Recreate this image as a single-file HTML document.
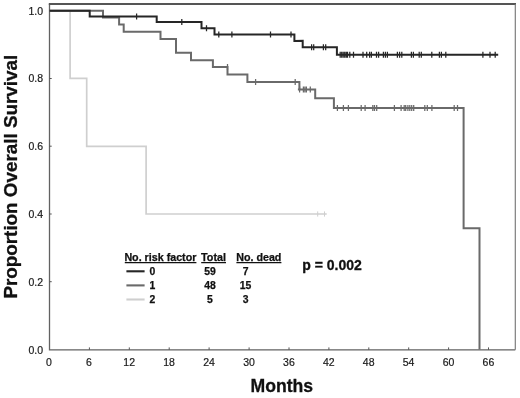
<!DOCTYPE html>
<html><head><meta charset="utf-8"><title>Overall Survival</title>
<style>html,body{margin:0;padding:0;background:#fff;}body{width:520px;height:398px;overflow:hidden;font-family:"Liberation Sans",sans-serif;}svg{display:block;filter:blur(0.4px);}</style>
</head><body>
<svg width="520" height="398" viewBox="0 0 520 398">
<rect width="520" height="398" fill="#fff"/>
<path d="M49.5,4 V349.8 H515.3" fill="none" stroke="#626262" stroke-width="1.3"/>
<path d="M48.8,4 H516" fill="none" stroke="#555" stroke-width="2"/>
<path d="M515.3,4 V349.8" fill="none" stroke="#787878" stroke-width="1.15"/>
<path d="M89.4,349.8v-2.4M129.3,349.8v-2.4M169.2,349.8v-2.4M209.1,349.8v-2.4M249.1,349.8v-2.4M289.0,349.8v-2.4M328.9,349.8v-2.4M368.8,349.8v-2.4M408.7,349.8v-2.4M448.6,349.8v-2.4M488.5,349.8v-2.4M49.5,78.5h2.2M49.5,146.2h2.2M49.5,214.0h2.2M49.5,281.7h2.2" stroke="#555" stroke-width="1" fill="none"/>
<path d="M70.1,10.7 L70.1,78.4 L86.7,78.4 L86.7,146.3 L146.1,146.3 L146.1,214.0 L326.7,214.0" fill="none" stroke="#cfcfcf" stroke-width="1.7"/>
<path d="M317.7,211.4V216.6 M324.5,211.4V216.6" fill="none" stroke="#cfcfcf" stroke-width="1"/>
<path d="M49.5,10.7 L103.0,10.7 L103.0,17.5 L119.1,17.5 L119.1,24.4 L123.7,24.4 L123.7,31.8 L160.5,31.8 L160.5,39.0 L176.0,39.0 L176.0,52.7 L191.0,52.7 L191.0,60.3 L212.9,60.3 L212.9,67.0 L227.5,67.0 L227.5,74.6 L247.4,74.6 L247.4,82.1 L299.4,82.1 L299.4,89.6 L315.2,89.6 L315.2,98.3 L333.9,98.3 L333.9,107.9 L463.6,107.9 L463.6,228.3 L479.5,228.3 L479.5,349.5 M297.9,89.6H300" fill="none" stroke="#6a6a6a" stroke-width="2"/>
<path d="M227.5,64.0V70.0 M255.6,79.1V85.1 M295.2,79.1V85.1 M299.6,86.6V92.6 M303.4,86.6V92.6 M304.9,86.6V92.6 M306.4,86.6V92.6 M310.3,86.6V92.6 M337.4,104.9V110.9 M343.4,104.9V110.9 M348.4,104.9V110.9 M361.2,104.9V110.9 M365.1,104.9V110.9 M372.8,104.9V110.9 M374.5,104.9V110.9 M376.7,104.9V110.9 M394.4,104.9V110.9 M401.1,104.9V110.9 M404.2,104.9V110.9 M405.7,104.9V110.9 M407.9,104.9V110.9 M409.8,104.9V110.9 M411.7,104.9V110.9 M413.7,104.9V110.9 M424.8,104.9V110.9 M427.3,104.9V110.9 M431.9,104.9V110.9 M454.2,104.9V110.9 M457.5,104.9V110.9" fill="none" stroke="#6a6a6a" stroke-width="1.25"/>
<path d="M49.5,10.7 L89.7,10.7 L89.7,16.5 L156.7,16.5 L156.7,22.0 L201.5,22.0 L201.5,28.3 L214.5,28.3 L214.5,34.4 L294.4,34.4 L294.4,40.9 L302.7,40.8 L302.7,47.2 L336.9,47.2 L336.9,54.7 L498.2,54.7" fill="none" stroke="#262626" stroke-width="2"/>
<path d="M136.6,13.5V19.5 M181.8,19.0V25.0 M206.5,25.3V31.3 M218.8,31.4V37.4 M231.9,31.4V37.4 M270.5,31.4V37.4 M291.0,31.4V37.4 M311.6,44.2V50.2 M313.7,44.2V50.2 M323.4,44.2V50.2 M325.7,44.2V50.2 M340.2,51.7V57.7 M341.7,51.7V57.7 M343.2,51.7V57.7 M344.7,51.7V57.7 M346.2,51.7V57.7 M347.5,51.7V57.7 M349.8,51.7V57.7 M353.5,51.7V57.7 M363.0,51.7V57.7 M366.7,51.7V57.7 M369.6,51.7V57.7 M371.4,51.7V57.7 M376.5,51.7V57.7 M378.6,51.7V57.7 M383.4,51.7V57.7 M385.4,51.7V57.7 M387.4,51.7V57.7 M397.4,51.7V57.7 M399.6,51.7V57.7 M401.8,51.7V57.7 M411.4,51.7V57.7 M413.4,51.7V57.7 M419.2,51.7V57.7 M421.3,51.7V57.7 M431.8,51.7V57.7 M439.4,51.7V57.7 M441.4,51.7V57.7 M445.8,51.7V57.7 M482.9,51.7V57.7 M490.0,51.7V57.7 M495.2,51.7V57.7" fill="none" stroke="#262626" stroke-width="1.25"/>
<g font-family="Liberation Sans, sans-serif" font-size="10.5" fill="#1a1a1a" stroke="#1a1a1a" stroke-width="0.2" text-anchor="end">
<text x="43.1" y="14.5">1.0</text>
<text x="43.1" y="82.3">0.8</text>
<text x="43.1" y="150.2">0.6</text>
<text x="43.1" y="218.0">0.4</text>
<text x="43.1" y="285.8">0.2</text>
<text x="43.1" y="353.7">0.0</text>
</g>
<g font-family="Liberation Sans, sans-serif" font-size="10.5" fill="#1a1a1a" stroke="#1a1a1a" stroke-width="0.2" text-anchor="middle">
<text x="49.0" y="365.9">0</text>
<text x="88.9" y="365.9">6</text>
<text x="129.2" y="365.9">12</text>
<text x="169.1" y="365.9">18</text>
<text x="209.0" y="365.9">24</text>
<text x="249.0" y="365.9">30</text>
<text x="288.9" y="365.9">36</text>
<text x="328.8" y="365.9">42</text>
<text x="368.7" y="365.9">48</text>
<text x="408.6" y="365.9">54</text>
<text x="448.5" y="365.9">60</text>
<text x="488.4" y="365.9">66</text>
</g>
<text x="281.8" y="391.7" font-family="Liberation Sans, sans-serif" font-weight="bold" font-size="18.4" fill="#111" stroke="#111" stroke-width="0.3" text-anchor="middle" textLength="62.6" lengthAdjust="spacingAndGlyphs">Months</text>
<text transform="translate(16.6,298.6) rotate(-90)" font-family="Liberation Sans, sans-serif" font-weight="bold" font-size="18.8" fill="#111" stroke="#111" stroke-width="0.3" textLength="243.8" lengthAdjust="spacingAndGlyphs">Proportion Overall Survival</text>
<g font-family="Liberation Sans, sans-serif" font-weight="bold" font-size="10.4" fill="#111" stroke="#111" stroke-width="0.25">
<text x="124.4" y="260.8" textLength="72" lengthAdjust="spacingAndGlyphs">No. risk factor</text>
<text x="201" y="260.8" textLength="25" lengthAdjust="spacingAndGlyphs">Total</text>
<text x="236.2" y="260.8" textLength="45.2" lengthAdjust="spacingAndGlyphs">No. dead</text>
<path d="M124.8,262.6H196.4M201.2,262.6H226M236.4,262.6H281.4" stroke="#111" stroke-width="1.4"/>
<path d="M126.4,271.3H144.6" stroke="#262626" stroke-width="2.1" stroke-linecap="butt"/>
<text x="152.5" y="274.8" text-anchor="middle">0</text>
<text x="210" y="274.8" text-anchor="middle">59</text>
<text x="245.6" y="274.8" text-anchor="middle">7</text>
<path d="M126.4,285.4H144.6" stroke="#6a6a6a" stroke-width="2.1" stroke-linecap="butt"/>
<text x="152.5" y="288.9" text-anchor="middle">1</text>
<text x="210" y="288.9" text-anchor="middle">48</text>
<text x="245.6" y="288.9" text-anchor="middle">15</text>
<path d="M126.4,299.5H144.6" stroke="#cfcfcf" stroke-width="2.1" stroke-linecap="butt"/>
<text x="152.5" y="303.0" text-anchor="middle">2</text>
<text x="210" y="303.0" text-anchor="middle">5</text>
<text x="245.6" y="303.0" text-anchor="middle">3</text>
</g>
<text x="302.3" y="270.2" font-family="Liberation Sans, sans-serif" font-weight="bold" font-size="14.1" fill="#111" stroke="#111" stroke-width="0.3" textLength="59.6" lengthAdjust="spacingAndGlyphs">p = 0.002</text>
</svg>
</body></html>
